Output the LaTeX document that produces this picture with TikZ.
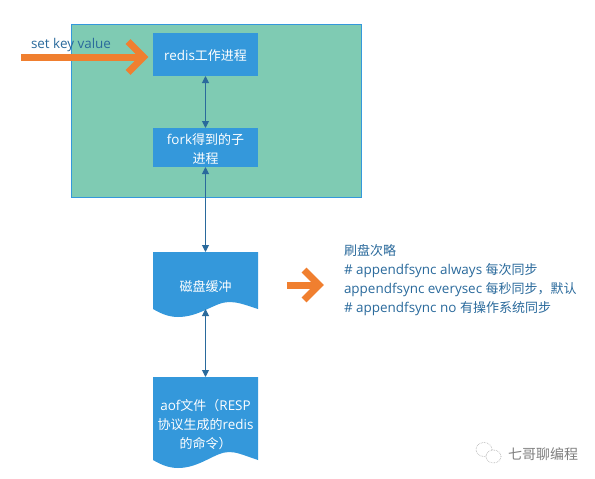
\documentclass[tikz,border=0pt]{standalone}
\usepackage{fontspec}
\usetikzlibrary{arrows.meta}
\setmainfont[Scale=1.035]{Open Sans}
\newfontfamily\zhfont{Noto Sans CJK SC}
\newcommand{\zh}[1]{{\zhfont #1}}
\definecolor{boxblue}{HTML}{3498DB}
\definecolor{panelgreen}{HTML}{7FCBB3}
\definecolor{linkblue}{HTML}{2A6A9C}
\definecolor{heatorange}{HTML}{F07F2F}
\definecolor{marktext}{HTML}{808080}
\tikzset{
  x=1pt,y=-1pt,
  every node/.style={font=\fontsize{13}{19}\selectfont,inner sep=0pt,outer sep=0pt},
  procbox/.style={fill=boxblue,minimum width=105pt},
  docshape/.style={minimum width=105pt},
  whitetext/.style={text=white,align=center},
  link/.style={draw=linkblue,line width=1pt,{Triangle[width=7pt,length=7pt]}-{Triangle[width=7pt,length=7pt]}},
  bigarrow/.style={draw=heatorange,line width=7pt,line cap=butt,line join=miter,miter limit=10},
}
\begin{document}
\begin{tikzpicture}
\useasboundingbox (0,0) rectangle (595,479);
\fill[white] (0,0) rectangle (595,479);
% panel
\node[draw=boxblue,fill=panelgreen,line width=1pt,minimum width=290pt,minimum height=173pt,anchor=north west] (panel) at (71.5,24) {};
% process boxes
\node[procbox,minimum height=43pt,anchor=north west] (redis) at (153,33) {};
\node[whitetext] (redistext) at (205.5,55.5) {redis\zh{工作进程}};
\node[procbox,minimum height=39pt,anchor=north west] (fork) at (153,128) {};
\node[whitetext] (forktext) at (205.5,149) {fork\zh{得到的子}\\\zh{进程}};
% documents
\fill[boxblue] (153,252) -- (258,252) -- (258,309)
  .. controls (243,304) and (237,302) .. (229,302)
  .. controls (215,302) and (200,317) .. (178,317)
  .. controls (168,317) and (160,313) .. (153,309) -- cycle;
\node[docshape,minimum height=57pt,anchor=north west] (doc1) at (153,252) {};
\node[whitetext] (doc1text) at (205.5,286.5) {\zh{磁盘缓冲}};
\fill[boxblue] (153,377) -- (258,377) -- (258,460)
  .. controls (243,455) and (237,452) .. (229,452)
  .. controls (215,452) and (200,468) .. (178,468)
  .. controls (168,468) and (160,464) .. (153,460) -- cycle;
\node[docshape,minimum height=83pt,anchor=north west] (doc2) at (153,377) {};
\node[whitetext] (doc2text) at (205.5,425) {aof\zh{文件（}RESP\\\zh{协议生成的}redis\\\zh{的命令）}};
% links
\draw[link] (redis.south) -- (fork.north);
\draw[link] (fork.south) -- (doc1.north);
\draw[link] (doc1.south) -- (doc2.north);
% labels
\node[text=linkblue,anchor=west] (setkey) at (31,45) {set key value};
\node[text=linkblue,anchor=north west,align=left] (policy) at (344,244)
 {\zh{刷盘次略}\\
  \# appendfsync always \zh{每次同步}\\
  appendfsync everysec \zh{每秒同步，默认}\\
  \# appendfsync no \zh{有操作系统同步}};
% orange arrows
\coordinate (inA) at (21,57);
\coordinate (tipA) at (143.5,57);
\coordinate (upA) at (128,41.5);
\coordinate (dnA) at (128,72.5);
\draw[bigarrow] (inA) -- (tipA);
\draw[bigarrow] (upA) -- (tipA) -- (dnA);
\coordinate (inB) at (287,285);
\coordinate (tipB) at (319,285);
\coordinate (upB) at (304,270);
\coordinate (dnB) at (304,300);
\draw[bigarrow] (inB) -- (tipB);
\draw[bigarrow] (upB) -- (tipB) -- (dnB);
% watermark
\draw[marktext!70,line width=.6pt,densely dotted] (484,449.5) ellipse (8 and 7);
\fill[white] (493.5,456.5) ellipse (7.5 and 6.5);
\draw[marktext!70,line width=.6pt,densely dotted] (493.5,456.5) ellipse (7.5 and 6.5);
\node[text=marktext,anchor=west,font=\fontsize{14}{16}\selectfont] (mark) at (508,454) {\zh{七哥聊编程}};
\end{tikzpicture}
\end{document}
